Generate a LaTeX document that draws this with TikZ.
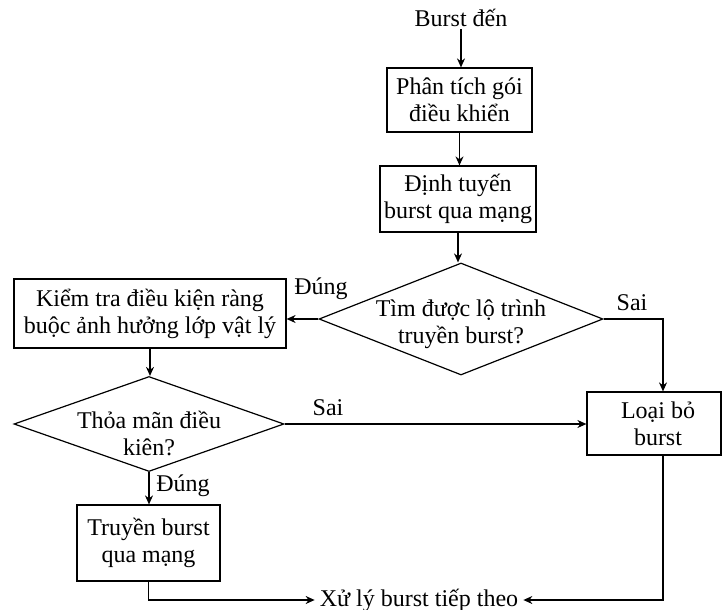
\documentclass[tikz,border=0pt]{standalone}
\usepackage{fontspec}
\setmainfont{Liberation Serif}
\usetikzlibrary{shapes.geometric,arrows.meta}
\begin{document}
\begin{tikzpicture}[x=1pt,y=-1pt,
  every node/.style={font=\fontsize{24}{27}\selectfont, align=center},
  box/.style={draw, line width=1.2pt, inner sep=0pt},
  decision/.style={draw, line width=1.2pt, shape=diamond, inner sep=0pt},
  plain/.style={inner sep=2pt},
  flow/.style={line width=1.2pt, -{Stealth[length=9pt,width=8pt]}},
  link/.style={line width=1.2pt}]
\useasboundingbox (0,0) rectangle (723,610);
\fill[white] (0,0) rectangle (723,610);

% steps
\node[plain] (start) at (461,18) {Burst đến};
\node[box, minimum width=145pt, minimum height=64pt] (b1) at (459.5,100)
  {Phân tích gói\\điều khiển};
\node[box, minimum width=156pt, minimum height=66pt] (b2) at (458,199)
  {Định tuyến\\burst qua mạng};
\node[decision, minimum width=284pt, minimum height=112pt,
  label={[yshift=-5pt]center:{Tìm được lộ trình\\truyền burst?}}] (d1) at (461,319) {};
\node[box, minimum width=272pt, minimum height=69pt] (b3) at (150,313.5)
  {Kiểm tra điều kiện ràng\\buộc ảnh hưởng lớp vật lý};
\node[decision, minimum width=270pt, minimum height=95pt,
  label={[yshift=-9pt]center:{Thỏa mãn điều\\kiên?}}] (d2) at (149,424) {};
\node[box, minimum width=134pt, minimum height=63pt] (b4) at (654,423.5)
  {\hspace*{8pt}Loại bỏ\\\hspace*{8pt}burst};
\node[box, minimum width=143pt, minimum height=76pt] (b5) at (148.5,543)
  {Truyền burst\\qua mạng};
\node[plain, inner xsep=5pt] (end) at (419,600) {Xử lý burst tiếp theo};

% branch labels
\node[plain] (yes1) at (321,289) {Đúng};
\node[plain] (no1) at (632,303) {Sai};
\node[plain] (no2) at (328,408) {Sai};
\node[plain] (yes2) at (183,486) {Đúng};

% connectors
\draw[flow] (start.south) -- (start.south |- b1.north);
\draw[flow] (b1.south) -- (b1.south |- b2.north);
\draw[flow] (b2.south) -- (b2.south |- d1.north);
\draw[flow] (d1.west) -- (d1.west -| b3.east);
\draw[flow] (d1.east) -| ([xshift=9pt]b4.north);
\draw[flow] (b3.south) -- (b3.south |- d2.north);
\draw[flow] (d2.east) -- (d2.east -| b4.west);
\draw[flow] (d2.south) -- (d2.south |- b5.north);
\draw[flow] (b5.south) |- (end.west);
\draw[flow] ([xshift=9pt]b4.south) |- (end.east);
\end{tikzpicture}
\end{document}
